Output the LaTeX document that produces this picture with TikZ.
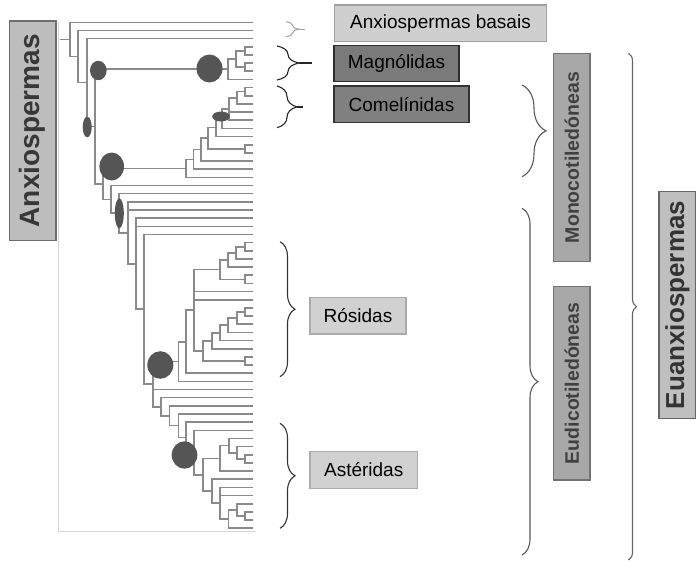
\documentclass[tikz,border=0pt]{standalone}
\usepackage{fontspec}
\setmainfont{Liberation Sans}
\usetikzlibrary{calc,decorations.pathreplacing,shapes.geometric}
\definecolor{treec}{HTML}{8A8A8A}
\definecolor{blobc}{HTML}{555555}
\definecolor{framec}{HTML}{D6D6D6}
\newcommand\mkn[4]{\path let \p1=($(#3)!0.5!(#4)$) in coordinate (#1) at (#2pt,\y1);}
\newcommand\ed[2]{\draw[br] (#1) |- (#2);}
\begin{document}
\begin{tikzpicture}[x=1pt,y=-1pt,
  br/.style={treec,line width=1.6pt},
  blob/.style={ellipse,fill=blobc,inner sep=0pt,draw=none},
  lbox/.style={rectangle,inner sep=0pt,font=\fontsize{19}{22}\selectfont,line width=1.3pt},
  vbox/.style={rectangle,inner sep=0pt,rotate=90,font=\bfseries,line width=1.5pt},
  brc/.style={line width=1.1pt,decorate},
]
\useasboundingbox (0,0) rectangle (696,565);
\fill[white] (0,0) rectangle (696,565);
% frame
\coordinate (f1) at (58,22); \coordinate (f2) at (58,531); \coordinate (f3) at (256,531);
\draw[framec,line width=1pt] (f1) -- (f2) -- (f3);
% leaves
\foreach \i in {0,...,62} { \coordinate (L\i) at (253,{22.3+8.16*\i}); }
% asterids
\mkn{p5354}{245}{L53}{L54}
\mkn{a1}{237}{L52}{p5354}
\mkn{a2}{229}{L51}{a1}
\mkn{a3}{220}{a2}{L55}
\mkn{p6061}{245}{L60}{L61}
\mkn{b1}{237}{L59}{p6061}
\mkn{b2}{228.3}{b1}{L62}
\mkn{b3}{220}{L57}{b2}
\mkn{b4}{211.7}{L56}{b3}
\mkn{A1}{202.7}{a3}{b4}
\mkn{AS}{194}{L50}{A1}
\mkn{K4}{186}{L49}{AS}
\mkn{K3}{178.3}{L48}{K4}
\mkn{K2}{169.3}{L47}{K3}
\mkn{K}{161}{L46}{K2}
% rosids
\mkn{p2728}{245}{L27}{L28}
\mkn{r1}{236}{p2728}{L29}
\mkn{r2}{228}{r1}{L30}
\mkn{p3132}{245}{L31}{L32}
\mkn{r3}{220}{r2}{p3132}
\mkn{p3536}{245}{L35}{L36}
\mkn{s1}{237}{p3536}{L37}
\mkn{s2}{228}{s1}{L38}
\mkn{s3}{220}{s2}{L39}
\mkn{s4}{211.7}{s3}{L40}
\mkn{p4142}{245}{L41}{L42}
\mkn{S}{202.7}{s4}{p4142}
\mkn{r4}{194}{r3}{S}
\mkn{r5}{185.7}{r4}{L43}
\mkn{r6}{178.3}{r5}{L44}
% eudicot backbone
\mkn{J}{152.7}{r6}{K}
\mkn{I}{144}{L26}{J}
\mkn{H}{136}{L24}{I}
\mkn{G}{128}{L22}{H}
\mkn{F}{119}{L21}{G}
\mkn{E}{111}{L20}{F}
% monocots
\mkn{p89}{245}{L8}{L9}
\mkn{c1}{237}{p89}{L10}
\mkn{c2}{229}{c1}{L12}
\mkn{c3}{222}{c2}{L13}
\mkn{m4}{216}{c3}{L14}
\mkn{p1516}{245}{L15}{L16}
\mkn{m3}{208}{m4}{p1516}
\mkn{m2}{201}{m3}{L17}
\mkn{m1}{193.5}{m2}{L18}
\mkn{m0}{186}{m1}{L19}
\mkn{D}{103}{m0}{E}
% magnoliids
\mkn{p34}{245}{L3}{L4}
\mkn{p56}{245}{L5}{L6}
\mkn{mg1}{236}{p34}{p56}
\mkn{mg0}{228}{mg1}{L7}
\mkn{C}{95}{mg0}{D}
\mkn{B}{87}{L2}{C}
\mkn{A}{78}{L1}{B}
\mkn{root}{70}{L0}{A}
\path let \p1=(root) in coordinate (rin) at (60pt,\y1);
% edges
\draw[br] (rin) -- (root);
\ed{root}{L0}\ed{root}{A}
\ed{A}{L1}\ed{A}{B}
\ed{B}{L2}\ed{B}{C}
\ed{C}{mg0}\ed{C}{D}
\ed{mg0}{mg1}\ed{mg0}{L7}
\ed{mg1}{p34}\ed{mg1}{p56}
\ed{p34}{L3}\ed{p34}{L4}\ed{p56}{L5}\ed{p56}{L6}
\ed{D}{m0}\ed{D}{E}
\ed{m0}{m1}\ed{m0}{L19}
\ed{m1}{m2}\ed{m1}{L18}
\ed{m2}{m3}\ed{m2}{L17}
\ed{m3}{m4}\ed{m3}{p1516}
\ed{p1516}{L15}\ed{p1516}{L16}
\ed{m4}{c3}\ed{m4}{L14}
\ed{c3}{c2}\ed{c3}{L13}
\ed{c2}{c1}\ed{c2}{L11}\ed{c2}{L12}
\ed{c1}{p89}\ed{c1}{L10}
\ed{p89}{L8}\ed{p89}{L9}
\ed{E}{L20}\ed{E}{F}
\ed{F}{L21}\ed{F}{G}
\ed{G}{L22}\ed{G}{L23}\ed{G}{H}
\ed{H}{L24}\ed{H}{L25}\ed{H}{I}
\ed{I}{L26}\ed{I}{J}
\ed{J}{r6}\ed{J}{L45}\ed{J}{K}
\ed{r6}{r5}\ed{r6}{L44}
\ed{r5}{r4}\ed{r5}{L43}
\ed{r4}{r3}\ed{r4}{L33}\ed{r4}{L34}\ed{r4}{S}
\ed{r3}{r2}\ed{r3}{p3132}
\ed{r2}{r1}\ed{r2}{L30}
\ed{r1}{p2728}\ed{r1}{L29}
\ed{p2728}{L27}\ed{p2728}{L28}
\ed{p3132}{L31}\ed{p3132}{L32}
\ed{S}{s4}\ed{S}{p4142}
\ed{s4}{s3}\ed{s4}{L40}
\ed{s3}{s2}\ed{s3}{L39}
\ed{s2}{s1}\ed{s2}{L38}
\ed{s1}{p3536}\ed{s1}{L37}
\ed{p3536}{L35}\ed{p3536}{L36}
\ed{p4142}{L41}\ed{p4142}{L42}
\ed{K}{L46}\ed{K}{K2}
\ed{K2}{L47}\ed{K2}{K3}
\ed{K3}{L48}\ed{K3}{K4}
\ed{K4}{L49}\ed{K4}{AS}
\ed{AS}{L50}\ed{AS}{A1}
\ed{A1}{a3}\ed{A1}{b4}
\ed{a3}{a2}\ed{a3}{L55}
\ed{a2}{L51}\ed{a2}{a1}
\ed{a1}{L52}\ed{a1}{p5354}
\ed{p5354}{L53}\ed{p5354}{L54}
\ed{b4}{L56}\ed{b4}{b3}
\ed{b3}{L57}\ed{b3}{L58}\ed{b3}{b2}
\ed{b2}{b1}\ed{b2}{L62}
\ed{b1}{L59}\ed{b1}{p6061}
\ed{p6061}{L60}\ed{p6061}{L61}
% blobs
\node[blob,minimum width=16.6pt,minimum height=19.4pt] (e1) at (98.3,70.5) {};
\node[blob,minimum width=26pt,minimum height=28pt] (e2) at (209.5,68.5) {};
\node[blob,minimum width=9pt,minimum height=20.6pt] (e3) at (87.2,127) {};
\node[blob,minimum width=17.6pt,minimum height=10pt] (e4) at (221,116.5) {};
\node[blob,minimum width=24.6pt,minimum height=28pt] (e5) at (111.7,166.5) {};
\node[blob,minimum width=9pt,minimum height=30pt] (e6) at (119.3,213.3) {};
\node[blob,minimum width=26pt,minimum height=27.6pt] (e7) at (160.3,365) {};
\node[blob,minimum width=25.6pt,minimum height=27.4pt] (e8) at (184.5,455) {};
% label boxes
\node[lbox,fill=black!19,draw=black!37,minimum width=212pt,minimum height=36.7pt] (basal) at (440.5,23.3) {Anxiospermas basais};
\node[lbox,fill=black!52,draw=black!82,minimum width=125pt,minimum height=36pt] (magn) at (396.5,63.7) {Magnólidas};
\node[lbox,fill=black!50,draw=black!80,minimum width=135pt,minimum height=36.7pt] (comel) at (401.5,104.3) {Comelínidas};
\node[lbox,fill=black!18,draw=black!33,minimum width=96pt,minimum height=36.7pt] (ros) at (358,315.7) {Rósidas};
\node[lbox,fill=black!18,draw=black!33,minimum width=107.3pt,minimum height=36.6pt] (ast) at (363.7,470) {Astéridas};
\node[vbox,fill=black!26,draw=black!57,text=black!78,minimum width=219.7pt,minimum height=46.7pt,font=\bfseries\fontsize{28}{30}\selectfont] (anx) at (32.7,130.8) {Anxiospermas};
\node[vbox,fill=black!34,draw=black!55,text=black!75,minimum width=208.4pt,minimum height=36.7pt,font=\bfseries\fontsize{19.5}{22}\selectfont] (mono) at (571.7,157.5) {Monocotiledóneas};
\node[vbox,fill=black!34,draw=black!55,text=black!75,minimum width=193.3pt,minimum height=36.7pt,font=\bfseries\fontsize{19.5}{22}\selectfont] (eudi) at (571.7,383.3) {Eudicotiledóneas};
\node[vbox,fill=black!25,draw=black!60,text=black!80,minimum width=226.6pt,minimum height=36.7pt,font=\bfseries\fontsize{26}{28}\selectfont] (euanx) at (677.5,305) {Euanxiospermas};
% braces
\draw[brc,black!35,decoration={brace,amplitude=13pt}] (286,21.7) -- (286,36.7);
\coordinate (tb1) at (299,29.2); \coordinate (tb2) at (305,29.2);
\draw[black!35,line width=1.1pt] (tb1) -- (tb2);
\draw[brc,black!85,decoration={brace,amplitude=22pt}] (277,46) -- (277,80);
\coordinate (tm1) at (299,63); \coordinate (tm2) at (311.5,63);
\draw[black!85,line width=1.1pt] (tm1) -- (tm2);
\draw[brc,black!85,decoration={brace,amplitude=20pt}] (277,86) -- (277,127.7);
\coordinate (tc1) at (297,107); \coordinate (tc2) at (303,107);
\draw[black!85,line width=1.1pt] (tc1) -- (tc2);
\draw[brc,black!80,decoration={brace,amplitude=15pt}] (280,241.7) -- (280,376.7);
\draw[brc,black!80,decoration={brace,amplitude=15pt}] (280,423.3) -- (280,528.3);
\draw[brc,black!65,decoration={brace,amplitude=24pt}] (522,85) -- (522,176.7);
\draw[brc,black!65,decoration={brace,amplitude=16pt}] (522,208.3) -- (522,555);
\draw[brc,black!60,decoration={brace,amplitude=8pt}] (628.5,53.3) -- (628.5,560);
\end{tikzpicture}
\end{document}
